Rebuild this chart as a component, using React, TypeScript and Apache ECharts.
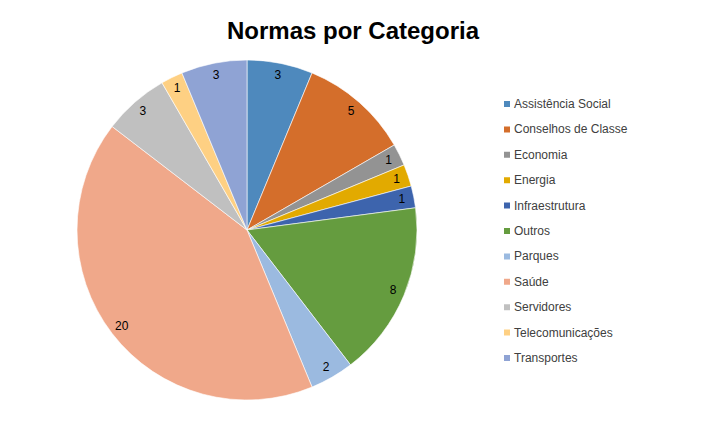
import React, { useEffect, useRef } from 'react';
import * as echarts from 'echarts';

const categories = [
  'Assistência Social',
  'Conselhos de Classe',
  'Economia',
  'Energia',
  'Infraestrutura',
  'Outros',
  'Parques',
  'Saúde',
  'Servidores',
  'Telecomunicações',
  'Transportes',
];
const counts = [3, 5, 1, 1, 1, 8, 2, 20, 3, 1, 3];
const colors = [
  '#4e89bd', '#d46e2b', '#939393', '#e2aa00', '#3d64ad', '#659c3f',
  '#9bbae0', '#f0a88a', '#c0c0c0', '#fed083', '#8fa3d4',
];

const App = () => {
  const chartRef = useRef<any>(null);

  useEffect(() => {
    document.body.style.margin = '0';
    const chart = echarts.init(chartRef.current, null, { renderer: 'svg' });

    const data = categories.map((name, i) => ({
      name,
      value: counts[i],
      itemStyle: { color: colors[i] },
    }));

    const option: any = {
      animation: false,
      backgroundColor: '#fff',
      title: {
        text: 'Normas por Categoria',
        left: 348,
        top: 13,
        textAlign: 'center',
        textStyle: {
          fontFamily: 'Liberation Sans',
          fontSize: 24,
          fontWeight: 'bold',
          color: '#000',
        },
      },
      legend: {
        orient: 'vertical',
        left: 502,
        top: 98,
        padding: 0,
        itemWidth: 8,
        itemHeight: 8,
        itemGap: 13.4,
        icon: 'rect',
        data: categories,
        textStyle: {
          fontFamily: 'Liberation Sans',
          fontSize: 12,
          color: '#404040',
          padding: [0, 0, 0, -2],
        },
      },
      series: [
        {
          // the pie itself
          type: 'pie',
          center: [247, 230],
          radius: 170,
          startAngle: 90,
          clockwise: true,
          label: { show: false },
          labelLine: { show: false },
          itemStyle: { borderColor: '#fff', borderWidth: 0.6 },
          emphasis: { disabled: true },
          data,
        },
        {
          // transparent ring to place the labels near the rim
          type: 'pie',
          center: [247, 230],
          radius: [140, 170],
          startAngle: 90,
          clockwise: true,
          silent: true,
          legendHoverLink: false,
          itemStyle: { color: 'rgba(0,0,0,0)', borderWidth: 0 },
          label: {
            show: true,
            position: 'inside',
            formatter: '{c}',
            fontFamily: 'Liberation Sans',
            fontSize: 12,
            color: '#000',
          },
          labelLine: { show: false },
          emphasis: { disabled: true },
          data: categories.map((name, i) => ({ name, value: counts[i] })),
        },
      ],
    };

    chart.setOption(option);

    return () => {
      chart.dispose();
    };
  }, []);

  return <div ref={chartRef} style={{ width: '707px', height: '437px' }} />;
};

export default App;
